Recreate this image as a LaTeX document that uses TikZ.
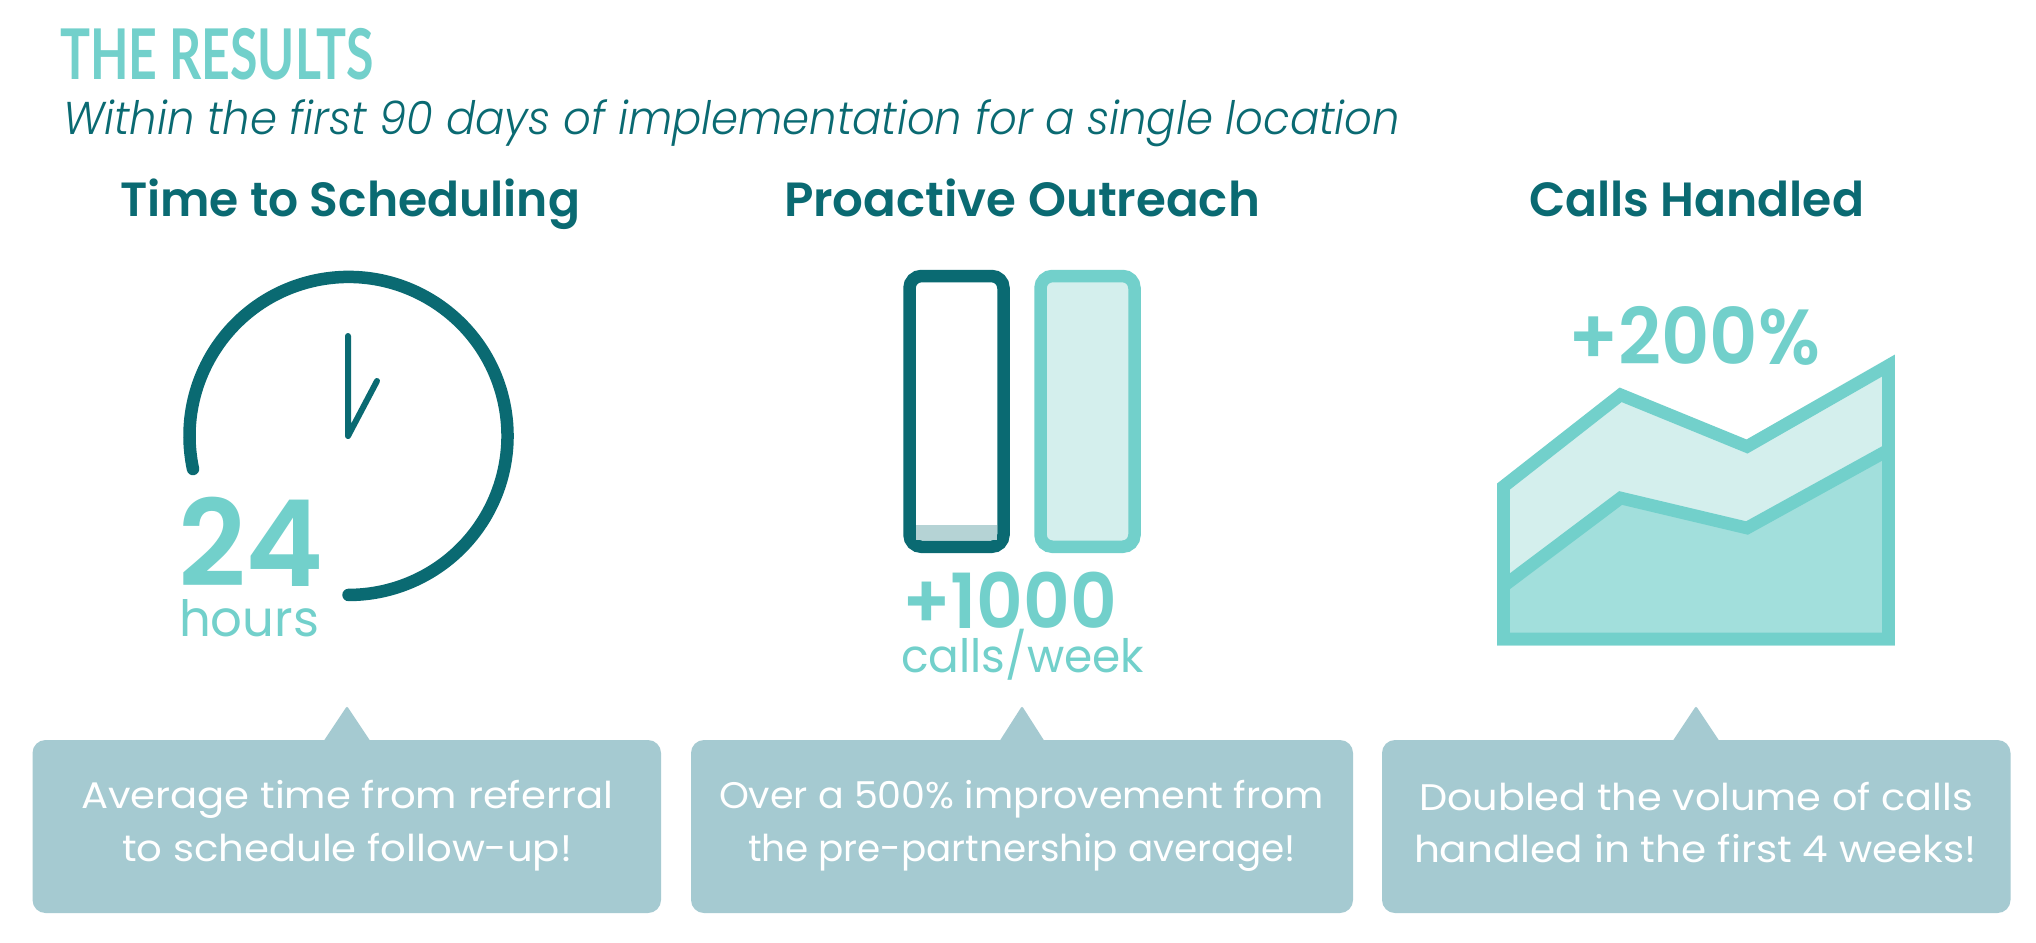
\documentclass[tikz,border=0pt]{standalone}
\usepackage{fontspec}
\usepackage{graphicx}
\setmainfont{Poppins}
\newfontfamily\bodyfont{Poppins}
\newfontfamily\italfont{Poppins Light Italic}
\newfontfamily\boldfont{Poppins SemiBold}
\newfontfamily\titlefont{Lato Bold}
\definecolor{teal}{HTML}{0A6A72}
\definecolor{aqua}{HTML}{72D0CB}
\definecolor{palefill}{HTML}{D4EFED}
\definecolor{midfill}{HTML}{A2DFDC}
\definecolor{boxfill}{HTML}{A5CAD1}
\definecolor{lowfill}{HTML}{B5D3D5}
\newcommand\fitw[2]{\resizebox{#1pt}{\height}{#2}}
\newcommand\fsz[1]{\fontsize{#1pt}{#1pt}\selectfont}
\tikzset{
  txt/.style={anchor=base west,inner sep=0pt,outer sep=0pt},
  heading/.style={txt,text=teal},
  accent/.style={txt,text=aqua},
  boxtext/.style={txt,text=white},
  callout/.style={fill=boxfill,rounded corners=13pt},
  tip/.style={fill=boxfill,rounded corners=2pt},
  hand/.style={draw=teal,line width=6pt,line cap=round,line join=round},
  ring/.style={draw=teal,line width=12.5pt,line cap=round},
  barout/.style={line width=12.5pt,rounded corners=12pt},
  area/.style={draw=aqua,line width=12.7pt,line join=miter}
}
\begin{document}
\begin{tikzpicture}[x=1pt,y=-1pt]
\useasboundingbox (0,0) rectangle (2036,942);
\fill[white] (0,0) rectangle (2036,942);
% header
\node[accent] (title) at (60,80) {\fitw{314}{\titlefont\fsz{70}THE RESULTS}};
\node[heading] (subtitle) at (63,134) {\fitw{1337}{\italfont\fsz{46}Within the first 90 days of implementation for a single location}};
\node[heading] (h1) at (120,216) {\fitw{460}{\boldfont\fsz{48}Time to Scheduling}};
\node[heading] (h2) at (784,216) {\fitw{476}{\boldfont\fsz{48}Proactive Outreach}};
\node[heading] (h3) at (1529,216) {\fitw{335}{\boldfont\fsz{48}Calls Handled}};
% clock
\draw[ring] (193,469) arc[start angle=168,end angle=450,radius=159];
\draw[hand] (348,336) -- (348,436) -- (377,381);
\node[accent] (n24) at (178,586) {\fitw{146}{\boldfont\fsz{120}24}};
\node[accent] (hours) at (179,636.6) {\fitw{140}{\bodyfont\fsz{50}hours}};
% bars
\draw[barout,draw=teal,fill=white] (909.5,276) rectangle (1003.5,546.8);
\fill[lowfill] (916,525) rectangle (997,540);
\draw[barout,draw=aqua,fill=palefill] (1040.5,276) rectangle (1134.5,546.8);
\node[accent] (n1000) at (902,628) {\fitw{215}{\boldfont\fsz{76}+1000}};
\node[accent] (calls) at (901,672) {\fitw{243}{\bodyfont\fsz{46}calls/week}};
% chart
\draw[area,fill=palefill] (1503.5,486.5) -- (1620.6,394.8) -- (1747,446.5) -- (1888.4,365.6) -- (1888.4,639) -- (1503.5,639) -- cycle;
\draw[area,fill=midfill] (1503.5,586) -- (1620.6,498) -- (1747,528) -- (1888.4,450) -- (1888.4,639) -- (1503.5,639) -- cycle;
\node[accent] (n200) at (1568,364) {\fitw{252}{\boldfont\fsz{78}+200\%}};
% callouts
\fill[callout] (32.5,740) rectangle (661,913);
\fill[tip] (323,742) -- (347,706) -- (371,742) -- cycle;
\fill[callout] (691,740) rectangle (1353,913);
\fill[tip] (999,742) -- (1022,706) -- (1045,742) -- cycle;
\fill[callout] (1382,740) rectangle (2010.5,913);
\fill[tip] (1672,742) -- (1696,706) -- (1720,742) -- cycle;
\node[boxtext] (t1a) at (81,808.5) {\fitw{532}{\bodyfont\fsz{37}Average time from referral}};
\node[boxtext] (t1b) at (122,861) {\fitw{450}{\bodyfont\fsz{37}to schedule follow-up!}};
\node[boxtext] (t2a) at (719,808.5) {\fitw{605}{\bodyfont\fsz{37}Over a 500\% improvement from}};
\node[boxtext] (t2b) at (748,861) {\fitw{548}{\bodyfont\fsz{37}the pre-partnership average!}};
\node[boxtext] (t3a) at (1419,810) {\fitw{554}{\bodyfont\fsz{37}Doubled the volume of calls}};
\node[boxtext] (t3b) at (1414,862) {\fitw{563}{\bodyfont\fsz{37}handled in the first 4 weeks!}};
\end{tikzpicture}
\end{document}
